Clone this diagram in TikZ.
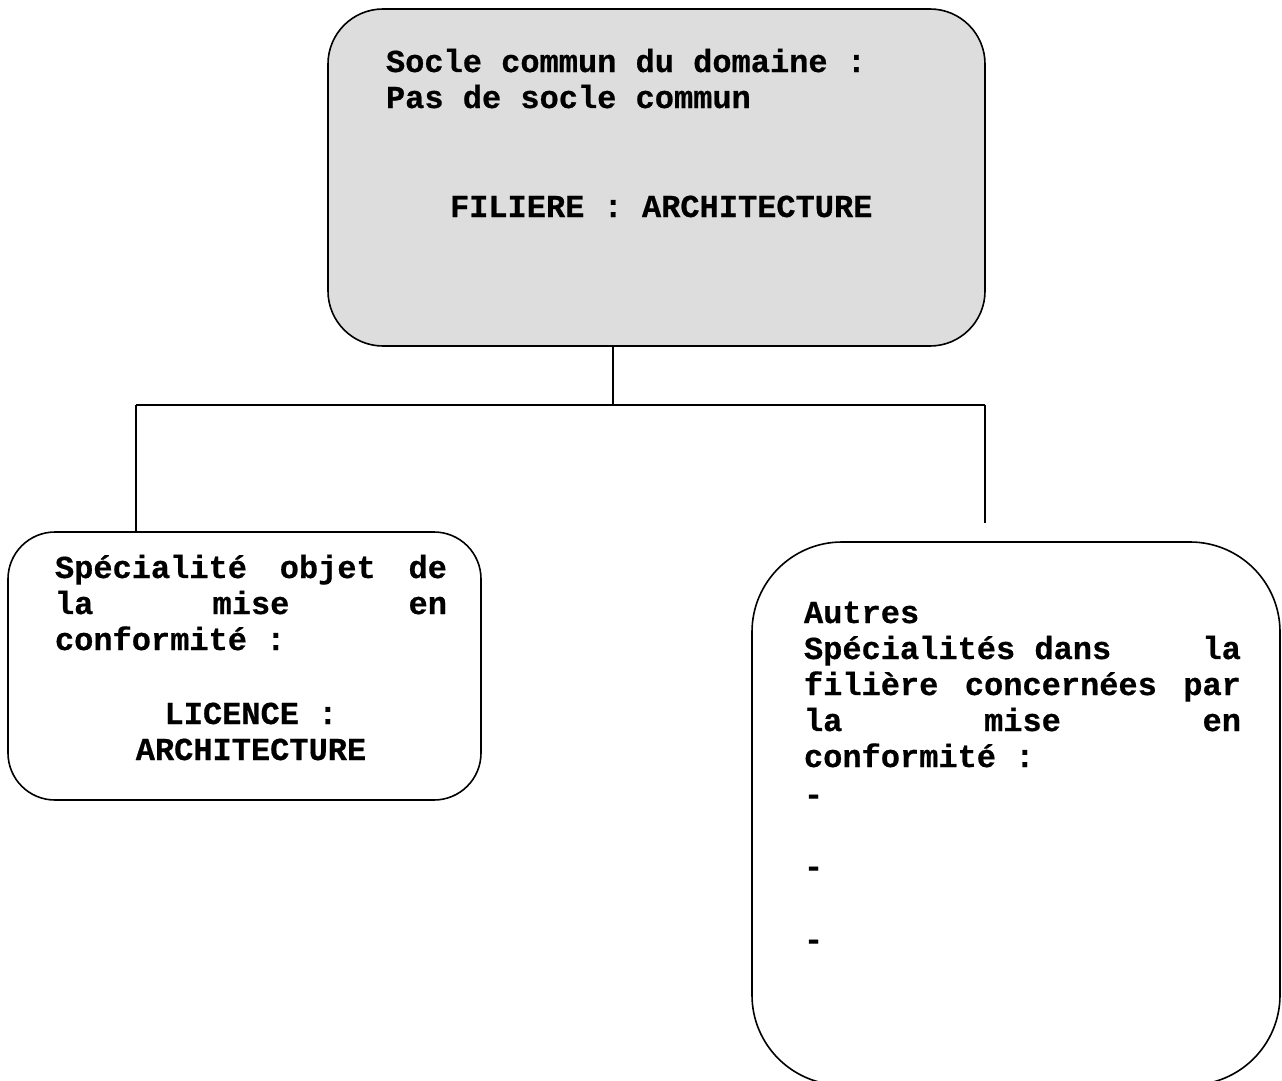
\documentclass[tikz,border=0pt]{standalone}
\usepackage{fontspec}
\newfontfamily\monofont{Liberation Mono}[BoldFeatures={FakeBold=0.6}]
\newcommand{\boxfont}{\monofont\bfseries\fontsize{32}{36.2}\selectfont}
\definecolor{boxgray}{HTML}{DDDDDD}
\begin{document}
\begin{tikzpicture}[x=1pt,y=-1pt,line width=1.6pt,
  boxstyle/.style={draw=black,rounded corners=#1,inner sep=0pt,outer sep=0pt},
  txt/.style={anchor=base west,inner sep=0pt,outer sep=0pt,font=\boxfont},
  ctxt/.style={anchor=base,inner sep=0pt,outer sep=0pt,font=\boxfont},
  link/.style={draw=black,line width=1.6pt}]
\useasboundingbox (0,0) rectangle (1282,1081);
% boxes
\node[boxstyle=55pt,fill=boxgray,minimum width=657pt,minimum height=337pt] (top) at (656.5,177.5) {};
\node[boxstyle=47pt,minimum width=473pt,minimum height=268pt] (left) at (244.5,666) {};
\node[boxstyle=90pt,minimum width=528pt,minimum height=543pt] (right) at (1016,813.5) {};
% top texts
\node[txt] (t1) at (386,72) {Socle commun du domaine :};
\node[txt] (t2) at (386,108) {Pas de socle commun};
\node[txt] (t3) at (450,217) {FILIERE : ARCHITECTURE};
% left texts
\node[txt] (l1) at (55,578) {\vtop{\baselineskip=36pt
  \hbox to 392pt{Spécialité\hfill objet\hfill de}
  \hbox to 392pt{la\hfill mise\hfill en}
  \hbox{conformité :}}};
\node[ctxt] (l2) at (251,724) {LICENCE :};
\node[ctxt] (l3) at (251,760) {ARCHITECTURE};
% right texts
\node[txt] (r1) at (804,623) {\vtop{\baselineskip=36pt
  \hbox{Autres}
  \hbox to 437pt{Spécialités dans\hfill la}
  \hbox to 437pt{filière\hfill concernées\hfill par}
  \hbox to 437pt{la\hfill mise\hfill en}
  \hbox{conformité :}}};
\node[txt] (d1) at (804,805) {-};
\node[txt] (d2) at (804,877) {-};
\node[txt] (d3) at (804,950) {-};
% connectors
\coordinate (j) at (613,405);
\coordinate (jl) at (136,405);
\coordinate (jr) at (985,405);
\coordinate (rend) at (985,523);
\draw[link] (top.south -| j) -- (j);
\draw[link] (jl) -- (jr);
\draw[link] (jl) -- (jl |- left.north);
\draw[link] (jr) -- (rend);
\end{tikzpicture}
\end{document}
